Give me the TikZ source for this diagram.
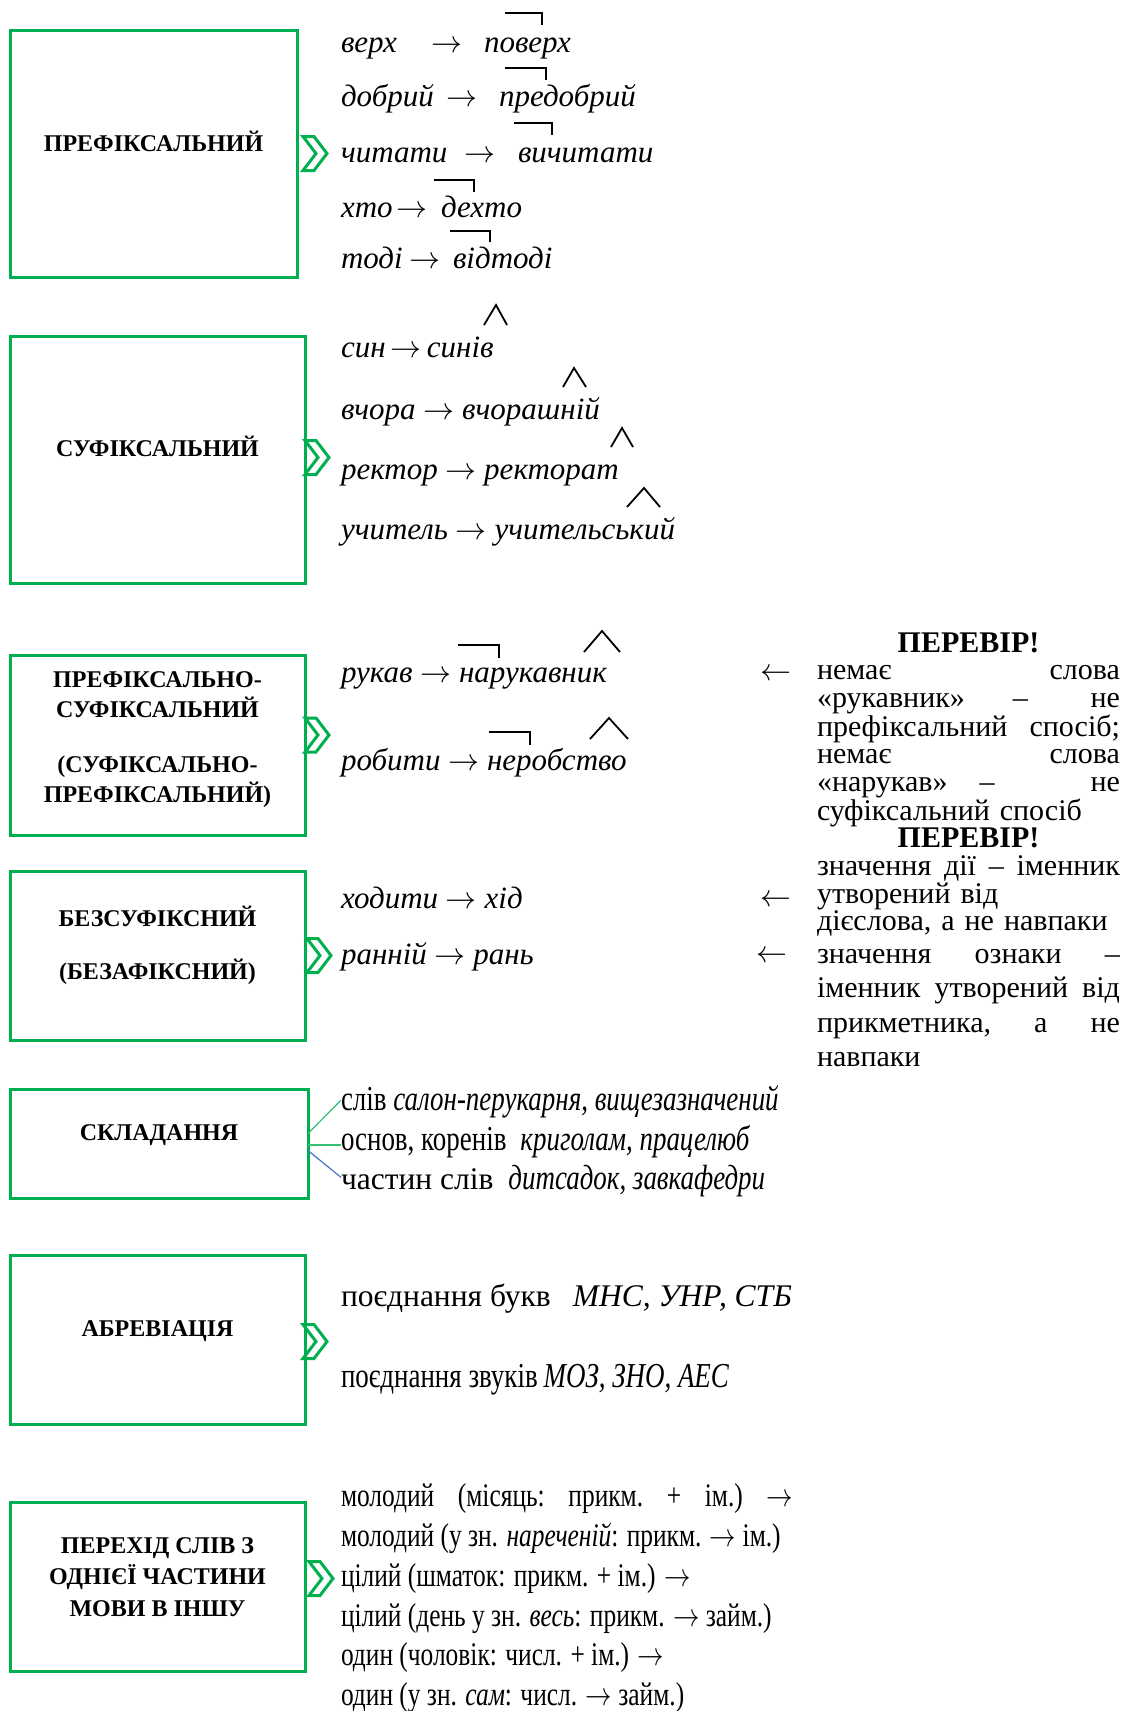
\RequirePackage{fix-cm}
\documentclass[tikz,border=0pt]{standalone}
\usepackage{fontspec}
\usepackage{graphicx}
\setmainfont{Liberation Serif}
\newfontfamily\narrowserif[FakeStretch=0.77]{Liberation Serif}
\usetikzlibrary{calc}

\definecolor{frame}{RGB}{0,176,80}
\definecolor{linkblue}{RGB}{68,114,196}

\newlength\colw
\setlength\colw{303pt}
% a full-width line of the note column; words are spread with \hfill
\newcommand\jline[1]{\makebox[\colw]{#1}}
\newcommand\cenline[1]{\makebox[\colw][c]{#1}}
\newcommand\ra{$\rightarrow$}
\newcommand\la{$\leftarrow$}
\newcommand\nra{\scalebox{0.8}[1]{$\rightarrow$}}

\tikzset{
  every node/.style={inner sep=0pt, outer sep=0pt},
  waybox/.style={draw=frame, line width=3pt},
  boxlabel/.style={font=\fontsize{24}{30}\selectfont\bfseries, align=center},
  ex/.style={font=\fontsize{31}{31}\selectfont\itshape, anchor=mid west, yshift=-6.5pt},
  arr/.style={font=\fontsize{31}{31}\selectfont, anchor=mid west, yshift=-6.5pt},
  plain/.style={font=\fontsize{31.5}{31.5}\selectfont, anchor=mid west, yshift=-6.5pt},
  cond/.style={font=\fontsize{33}{33}\selectfont\narrowserif, anchor=mid west, yshift=-6.5pt},
  note/.style={font=\fontsize{30}{27.6}\selectfont, text width=\colw, align=left, anchor=base west},
  pmark/.style={line width=2.5pt},
  caret/.style={line width=1.8pt, line join=miter},
  fanline/.style={draw=frame!80, line width=1.2pt},
  chevron/.pic={\draw[frame, line width=3pt, line join=miter, miter limit=4]
      (0,-17) -- (11,-17) -- (24,0) -- (11,17) -- (0,17) -- (13,0) -- cycle;}
}

\begin{document}
\begin{tikzpicture}[x=1pt,y=-1pt]
\useasboundingbox[fill=white] (0,0) rectangle (1126,1711);

% ---------- category boxes ----------
\node[waybox, minimum width=287pt, minimum height=247pt] (b1) at (153.5,153.5) {};
\node[waybox, minimum width=295pt, minimum height=247pt] (b2) at (157.5,459.5) {};
\node[waybox, minimum width=295pt, minimum height=180pt] (b3) at (157.5,745) {};
\node[waybox, minimum width=295pt, minimum height=169pt] (b4) at (157.5,955.5) {};
\node[waybox, minimum width=298pt, minimum height=109pt] (b5) at (159,1143.5) {};
\node[waybox, minimum width=295pt, minimum height=169pt] (b6) at (157.5,1339.5) {};
\node[waybox, minimum width=295pt, minimum height=169pt] (b7) at (157.5,1586.5) {};

\node[boxlabel] (l1) at (153.5,141) {ПРЕФІКСАЛЬНИЙ};
\node[boxlabel] (l2) at (157.5,446) {СУФІКСАЛЬНИЙ};
\node[boxlabel] (l3) at (157.5,740) {ПРЕФІКСАЛЬНО-\\СУФІКСАЛЬНИЙ\\[25pt](СУФІКСАЛЬНО-\\ПРЕФІКСАЛЬНИЙ)};
\node[boxlabel] (l4) at (157.5,945) {БЕЗСУФІКСНИЙ\\[23pt](БЕЗАФІКСНИЙ)};
\node[boxlabel] (l5) at (159,1135) {СКЛАДАННЯ};
\node[boxlabel] (l6) at (157.5,1331) {АБРЕВІАЦІЯ};
\node[boxlabel, font=\fontsize{24}{31.5}\selectfont\bfseries] (l7) at (157.5,1577) {ПЕРЕХІД СЛІВ З\\ОДНІЄЇ ЧАСТИНИ\\МОВИ В ІНШУ};

% ---------- chevrons ----------
\pic at ([xshift=6pt]b1.east) {chevron};
\pic at ([yshift=2pt]b2.east) {chevron};
\pic at ([yshift=10pt]b3.east) {chevron};
\pic at ([xshift=2pt]b4.east) {chevron};
\pic at ([xshift=-2pt,yshift=-2pt]b6.east) {chevron};
\pic at ([xshift=4pt,yshift=8pt]b7.east) {chevron};

% ---------- prefixal ----------
\node[ex] (w1a) at (341,44) {верх};
\node[arr] (a1) at (431,44) {\ra};
\node[ex] (w1b) at (484,44) {поверх};
\node[ex] (w2a) at (341,98) {добрий};
\node[arr] (a2) at (446,98) {\ra};
\node[ex] (w2b) at (499,98) {предобрий};
\node[ex] (w3a) at (341,154) {читати};
\node[arr] (a3) at (464,154) {\ra};
\node[ex] (w3b) at (518,154) {вичитати};
\node[ex] (w4a) at (341,209) {хто};
\node[arr] (a4) at (396,209) {\ra};
\node[ex] (w4b) at (441,209) {дехто};
\node[ex] (w5a) at (341,260) {тоді};
\node[arr] (a5) at (409,260) {\ra};
\node[ex] (w5b) at (453,260) {відтоді};

\draw[pmark] (505,13) -- (542,13) -- (542,25);
\draw[pmark] (505,68) -- (546,68) -- (546,80);
\draw[pmark] (514,123) -- (552,123) -- (552,135);
\draw[pmark] (434,180) -- (474,180) -- (474,192);
\draw[pmark] (450,231) -- (490,231) -- (490,242);

% ---------- suffixal ----------
\node[ex] (s1) at (341,349) {син\,\ra\,синів};
\node[ex] (s2) at (341,411) {вчора \ra{} вчорашній};
\node[ex] (s3) at (341,471) {ректор \ra{} ректорат};
\node[ex] (s4) at (341,531) {учитель \ra{} учительський};

\draw[caret] (484,325) -- (496,305) -- (507,325);
\draw[caret] (563,387) -- (574,368) -- (586,387);
\draw[caret] (611,447) -- (622,428) -- (633,447);
\draw[caret] (627,507) -- (644,488) -- (660,507);

% ---------- prefixal-suffixal ----------
\node[ex] (ps1) at (341,674) {рукав \ra{} нарукавник};
\node[ex] (ps2) at (341,762) {робити \ra{} неробство};
\draw[pmark] (458,645) -- (499,645) -- (499,658);
\draw[caret] (584,652) -- (602,631) -- (620,652);
\draw[pmark] (489,732) -- (530,732) -- (530,745);
\draw[caret] (590,739) -- (609,718) -- (628,739);

% ---------- zero-suffix ----------
\node[ex] (z1) at (341,900) {ходити \ra{} хід};
\node[ex] (z2) at (341,956) {ранній \ra{} рань};

% ---------- check notes ----------
\node[arr, yshift=2pt] (la1) at (760,674) {\la};
\node[arr, yshift=2pt] (la2) at (760,900) {\la};
\node[arr, yshift=2pt] (la3) at (756,956) {\la};

\node[note] (r1) at (817,652) {%
\cenline{\bfseries ПЕРЕВІР!}\\
\jline{немає\hfill слова}\\
\jline{«рукавник»\hspace{\stretch{1.3}}–\hspace{\stretch{1.7}}не}\\
\jline{префіксальний\hfill спосіб;}\\
\jline{немає\hfill слова}\\
\jline{«нарукав»\hspace{\stretch{1}}–\hspace{\stretch{3}}не}\\
суфіксальний спосіб\\
\cenline{\bfseries ПЕРЕВІР!}\\
\jline{значення\hfill дії\hfill –\hfill іменник}\\
утворений від\\
дієслова, а не навпаки};
\node[note, font=\fontsize{30}{34.5}\selectfont] (r2) at (817,963) {%
\jline{значення\hfill ознаки\hfill –}\\
\jline{іменник\hfill утворений\hfill від}\\
\jline{прикметника,\hfill а\hfill не}\\
навпаки};

% ---------- compounding ----------
\node[cond, font=\fontsize{35}{35}\selectfont\narrowserif] (t51) at (341,1102) {слів \textit{салон-перукарня, вищезазначений}};
\node[cond, font=\fontsize{35}{35}\selectfont\narrowserif] (t52) at (341,1142) {основ, коренів\hspace{14pt}\textit{криголам, працелюб}};
\node[plain] (t53) at (341,1181) {частин слів\hspace{15pt}{\fontsize{35}{35}\selectfont\narrowserif\itshape дитсадок, завкафедри}};
\draw[fanline] ([yshift=10pt]b5.east) -- ([yshift=2pt]t51.west);
\draw[fanline] ([yshift=-1.5pt]b5.east) -- ([yshift=-1.5pt]b5.east -| t52.west);
\draw[linkblue, line width=1.2pt] ([yshift=-7pt]b5.east) -- ([yshift=4pt]t53.west);

% ---------- abbreviation ----------
\node[plain] (t61) at (341,1298) {поєднання букв\hspace{22pt}\textit{МНС, УНР, СТБ}};
\node[cond, font=\fontsize{35}{35}\selectfont\narrowserif] (t62) at (341,1379) {поєднання звуків\,\textit{МОЗ, ЗНО, АЕС}};

% ---------- conversion ----------
\node[cond] (t71) at (341,1498) {\makebox[452pt]{молодий\hfill(місяць:\hfill прикм.\hfill +\hfill ім.)\hfill\nra}};
\node[cond] (t72) at (341,1538) {молодий (у зн. \textit{нареченій}: прикм. \nra{} ім.)};
\node[cond] (t73) at (341,1578) {цілий (шматок: прикм. + ім.) \nra};
\node[cond] (t74) at (341,1618) {цілий (день у зн. \textit{весь}: прикм. \nra{} займ.)};
\node[cond] (t75) at (341,1657) {один (чоловік: числ. + ім.) \nra};
\node[cond] (t76) at (341,1697) {один (у зн. \textit{сам}: числ. \nra{} займ.)};
\end{tikzpicture}
\end{document}
